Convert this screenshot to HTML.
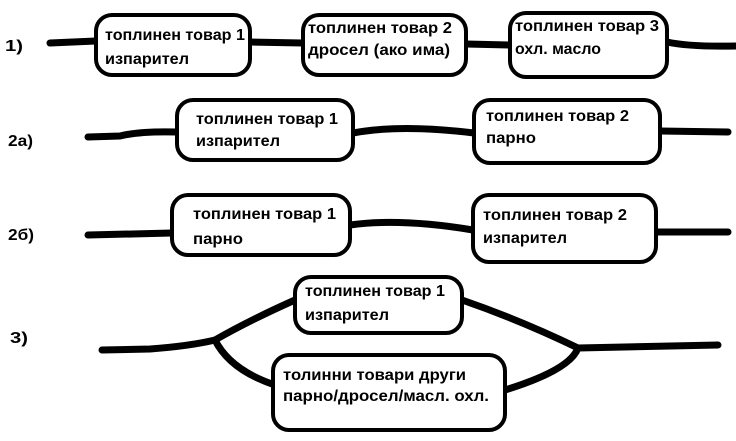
<!DOCTYPE html>
<html><head><meta charset="utf-8"><style>
html,body{margin:0;padding:0;background:#fff;width:736px;height:441px;overflow:hidden}
text{font-family:"Liberation Sans",sans-serif;font-weight:bold;font-size:16px;fill:#000}
</style></head><body>
<svg width="736" height="441" viewBox="0 0 736 441" xmlns="http://www.w3.org/2000/svg">
<g fill="none" stroke="#000" stroke-width="7" stroke-linecap="round" stroke-linejoin="round">
<path d="M50 43 L96 41"/><path d="M250 42 L303 43"/><path d="M466 44 L510 45"/><path d="M667 42 Q690 47 736 46"/>
<path d="M88 137 L120 136 Q140 131 177 132"/><path d="M353 133 Q400 124 474 133"/><path d="M660 131 L728 132"/>
<path d="M88 235 L172 233"/><path d="M350 225 Q400 218 473 230"/><path d="M656 232 L728 232"/>
<path d="M102 350 L150 349 Q190 346 215 340 Q250 320 295 300"/>
<path d="M215 340 Q230 370 275 385"/>
<path d="M462 300 Q520 320 578 348 L718 345"/>
<path d="M578 348 Q570 370 505 390"/>
</g>
<g fill="#fff" stroke="#000" stroke-width="4">
<rect x="96" y="15" width="154" height="60" rx="16"/>
<rect x="303" y="15" width="163" height="60" rx="16"/>
<rect x="510" y="13" width="157" height="64" rx="16"/>
<rect x="177" y="100" width="176" height="60" rx="16"/>
<rect x="474" y="100" width="186" height="63" rx="16"/>
<rect x="172" y="195" width="178" height="60" rx="16"/>
<rect x="473" y="195" width="183" height="67" rx="16"/>
<rect x="295" y="277" width="167" height="56" rx="16"/>
<rect x="273" y="355" width="232" height="75" rx="16"/>
</g>
<g>
<text x="5" y="51" textLength="18" lengthAdjust="spacingAndGlyphs">1)</text>
<text x="8" y="146" textLength="25" lengthAdjust="spacingAndGlyphs">2a)</text>
<text x="8" y="240" textLength="26" lengthAdjust="spacingAndGlyphs">2б)</text>
<text x="10" y="343" textLength="18" lengthAdjust="spacingAndGlyphs">3)</text>
<text x="105" y="40" textLength="140" lengthAdjust="spacingAndGlyphs">топлинен товар 1</text>
<text x="105" y="64" textLength="84" lengthAdjust="spacingAndGlyphs">изпарител</text>
<text x="308" y="33" textLength="144" lengthAdjust="spacingAndGlyphs">топлинен товар 2</text>
<text x="308" y="55" textLength="142" lengthAdjust="spacingAndGlyphs">дросел (ако има)</text>
<text x="515" y="31" textLength="144" lengthAdjust="spacingAndGlyphs">топлинен товар 3</text>
<text x="515" y="54" textLength="86" lengthAdjust="spacingAndGlyphs">охл. масло</text>
<text x="196" y="124" textLength="142" lengthAdjust="spacingAndGlyphs">топлинен товар 1</text>
<text x="196" y="146" textLength="84" lengthAdjust="spacingAndGlyphs">изпарител</text>
<text x="486" y="121" textLength="143" lengthAdjust="spacingAndGlyphs">топлинен товар 2</text>
<text x="486" y="143" textLength="50" lengthAdjust="spacingAndGlyphs">парно</text>
<text x="193" y="219" textLength="143" lengthAdjust="spacingAndGlyphs">топлинен товар  1</text>
<text x="193" y="244" textLength="50" lengthAdjust="spacingAndGlyphs">парно</text>
<text x="483" y="220" textLength="144" lengthAdjust="spacingAndGlyphs">топлинен товар  2</text>
<text x="483" y="243" textLength="84" lengthAdjust="spacingAndGlyphs">изпарител</text>
<text x="305" y="296" textLength="140" lengthAdjust="spacingAndGlyphs">топлинен товар 1</text>
<text x="305" y="320" textLength="84" lengthAdjust="spacingAndGlyphs">изпарител</text>
<text x="283" y="380" textLength="183" lengthAdjust="spacingAndGlyphs">толинни товари други</text>
<text x="283" y="401" textLength="206" lengthAdjust="spacingAndGlyphs">парно/дросел/масл. охл.</text>
</g>
</svg>
</body></html>
